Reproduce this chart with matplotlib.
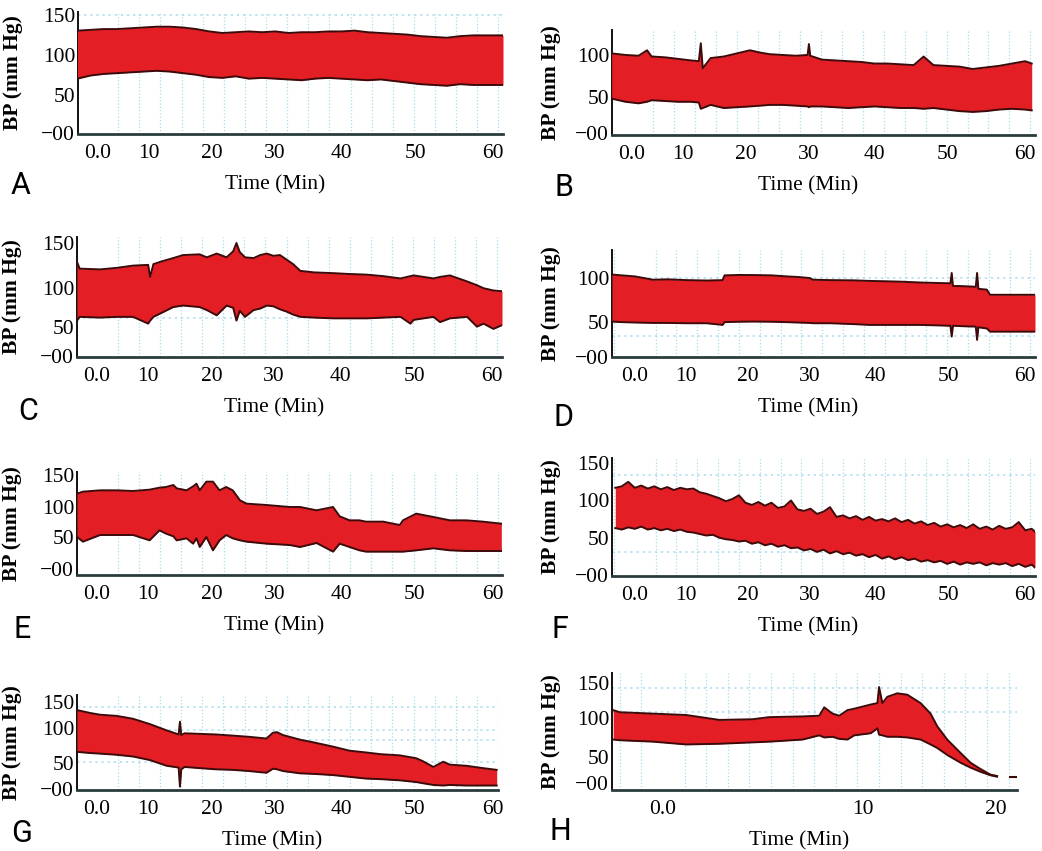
import matplotlib
matplotlib.use("Agg")
import matplotlib.pyplot as plt
from matplotlib.ticker import MultipleLocator

# ---- data: upper / lower envelope of the BP trace (mm Hg) vs time (min) ----
t_a = [-3, -1, 1, 3, 5, 7, 9, 11, 13, 15, 17, 19, 21, 23, 25, 27, 29, 31, 33, 35,
       37, 39, 41, 43, 45, 47, 49, 51, 53, 55, 57, 59, 61.5]
hi_a = [130, 131, 132, 132, 133, 134, 135, 135, 134, 132, 129, 127, 128, 129, 128, 129, 127,
        128, 128, 129, 129, 130, 128, 127, 126, 125, 123, 122, 121, 123, 124, 124, 124]
lo_a = [69, 73, 75, 76, 77, 78, 79, 78, 76, 74, 71, 70, 72, 69, 70, 69, 68, 67, 69, 70,
        69, 68, 67, 68, 66, 64, 62, 61, 60, 62, 61, 61, 61]

t_b = [-3.1, -1, 1, 2.3, 3, 5, 7, 9, 10.2, 10.5, 10.8, 12, 14, 16, 18, 19.6, 21, 23, 25, 26.8,
       27, 27.2, 29, 31, 33, 35, 37, 39, 41, 43, 44.5, 46, 48, 50, 52, 54, 56, 58, 60, 61]
hi_b = [102, 100, 99, 106, 98, 97, 95, 93, 92, 115, 83, 96, 98, 102, 106, 103, 101, 100, 99, 100,
        114, 99, 94, 93, 92, 91, 89, 89, 88, 87, 98, 87, 86, 85, 82, 84, 86, 89, 92, 89]
lo_b = [44, 40, 38, 40, 42, 41, 40, 40, 39, 31, 32, 36, 32, 33, 34, 35, 36, 36, 35, 34,
        33, 34, 34, 33, 32, 33, 34, 33, 32, 32, 31, 32, 30, 28, 27, 28, 30, 31, 30, 29]

t_c = [-3.0, -2.6, 0.5, 3, 5.5, 7.8, 8.1, 8.6, 10, 11.6, 13.1, 15.6, 16.7, 18.2, 19.7, 20.7,
       21.2, 21.7, 22.5, 23.8, 24.8, 25.8, 26.8, 27.8, 28.8, 29.8, 30.9, 33, 35.9, 38, 41,
       43.5, 46.1, 47.6, 48.1, 51.1, 52.1, 53.6, 56.2, 57.7, 58.7, 60.2, 61.5]
hi_c = [125, 116, 115, 117, 120, 121, 105, 122, 126, 130, 134, 135, 131, 136, 131, 139,
        150, 138, 131, 130, 134, 136, 133, 134, 128, 122, 113, 111, 110, 109, 108,
        106, 103, 106, 107, 103, 105, 107, 99, 94, 90, 87, 86]
lo_c = [47, 52, 51, 52, 52, 43, 47, 52, 58, 65, 67, 65, 61, 54, 67, 64,
        47, 60, 52, 61, 63, 67, 66, 62, 59, 55, 52, 51, 50, 50, 50,
        51, 52, 43, 48, 52, 45, 50, 52, 39, 43, 36, 41]

t_d = [-3.5, -2, 0, 2.8, 5, 8, 11, 13.5, 13.8, 16, 18.2, 21, 23.3, 25, 26.9, 27.4, 30, 33.6,
       36, 38.7, 41, 43.8, 46, 48.5, 48.7, 48.9, 50, 51.5, 52.4, 52.6, 52.8, 54.1, 54.6, 56,
       58, 60, 61.5]
hi_d = [104, 103, 101.7, 97.5, 98, 97, 96.5, 97, 103, 103.5, 103.4, 103, 101.7, 101, 99.6,
        97.5, 97, 96.7, 96, 95.5, 95, 94, 93.5, 93, 106, 89.6, 89.5, 89, 88.5, 106, 86, 85,
        78.5, 78.5, 78.5, 78.5, 78.5]
lo_d = [44.7, 44, 43.5, 43, 43, 42.6, 42.6, 40.5, 44, 44.5, 44.7, 44.5, 44, 43.5, 43, 42.6,
        42.6, 41.5, 40.5, 40.5, 40.5, 40.5, 40, 39.4, 25.8, 39.5, 39, 38.5, 38.4, 21.6, 37.5,
        36, 32, 32, 32, 32, 32]

t_e = [-3.0, -2.1, 0.5, 3, 5.5, 8.0, 9.5, 10.5, 11.6, 12.1, 13.6, 14.6, 15.1, 15.6, 16.6,
       17.6, 18.6, 19.6, 20.6, 21.7, 22.7, 25.7, 29.2, 30.8, 33.3, 35.8, 36.8, 38.3, 39.8,
       40.8, 43.4, 45.9, 46.4, 48.4, 51.0, 53.5, 56.0, 58.5, 61.3]
hi_e = [122, 125, 127, 127, 126, 128, 131, 132, 135, 130, 127, 133, 137, 127, 140,
        140, 127, 132, 127, 112, 107, 105, 102, 102, 97, 102, 88, 82, 82,
        80, 80, 75, 82, 92, 87, 82, 82, 80, 77]
lo_e = [57, 50, 60, 60, 60, 52, 67, 62, 58, 52, 55, 47, 55, 42, 57,
        37, 52, 60, 55, 52, 50, 47, 45, 42, 48, 35, 47, 42, 37,
        35, 35, 35, 35, 37, 40, 37, 36, 36, 36]

t_f = [-3, -2, -1, 0, 1, 2, 3, 4, 5, 6, 7, 8, 9, 10, 11, 12, 13, 14, 15, 16, 17, 18, 19, 20,
       21, 22, 23, 24, 25, 26, 27, 28, 29, 30, 31, 32, 33, 34, 35, 36, 37, 38, 39, 40, 41,
       42, 43, 44, 45, 46, 47, 48, 49, 50, 51, 52, 53, 54, 55, 56, 57, 58, 59, 60, 61, 61.5]
hi_f = [117, 119, 125, 117, 120, 116, 119, 115, 118, 114, 117, 115, 116, 111, 109, 106, 103,
        99, 102, 107, 97, 94, 98, 93, 97, 90, 92, 100, 88, 86, 89, 82, 85, 91, 78, 80, 76,
        79, 74, 78, 73, 75, 72, 76, 71, 74, 69, 72, 67, 70, 65, 68, 64, 67, 63, 68, 62, 65,
        61, 66, 62, 64, 71, 60, 62, 58]
lo_f = [63, 61, 64, 62, 65, 61, 63, 60, 62, 59, 61, 58, 57, 55, 53, 54, 50, 48, 47, 45,
        46, 42, 44, 40, 42, 38, 40, 36, 37, 33, 35, 31, 34, 29, 32, 28, 30, 26, 28, 24,
        27, 22, 25, 21, 24, 20, 22, 18, 20, 17, 19, 15, 18, 14, 17, 15, 17, 13, 16, 14,
        16, 12, 15, 11, 14, 10]

t_g = [-3.0, -1, 0.5, 3, 5.5, 8.0, 10.6, 12.4, 12.6, 12.8, 13.3, 15.6, 18, 20.6, 23, 25.7,
       26.7, 27.3, 28.2, 30.8, 33, 35.8, 38.3, 40.8, 43, 45.9, 48.4, 49.4, 51.0, 52.5, 53.5,
       56.0, 58.5, 60.6]
hi_g = [136, 131, 128, 126, 121, 112, 101, 94, 116, 93, 96, 95, 94, 92, 90, 87,
        97, 98, 93, 85, 80, 73, 66, 63, 60, 58, 53, 48, 38, 47, 42, 40, 36, 33]
lo_g = [64, 62, 61, 59, 56, 50, 40, 37, 4, 34, 38, 36, 34, 33, 31, 28,
        35, 34, 31, 27, 26, 24, 21, 18, 17, 15, 12, 10, 7, 6, 7, 6, 6, 6]

t_h = [-3.0, -2.6, -0.6, 1.4, 3.4, 5.4, 6.4, 8.4, 9.4, 9.7, 10.2, 10.6, 11.1, 11.5, 12.5,
       12.9, 13.0, 13.2, 13.5, 14.1, 14.7, 15.5, 16.1, 16.5, 17.1, 17.9, 18.5, 19.1, 19.7, 20.1]
hi_h = [111, 108, 106, 104, 97, 98, 101, 102, 103, 115, 106, 103, 111, 113, 119,
        121, 144, 121, 130, 135, 133, 121, 106, 88, 69, 50, 36, 27, 19, 17]
lo_h = [69, 68, 66, 62, 63, 65, 66, 69, 75, 72, 73, 70, 69, 75, 78,
        85, 76, 75, 73, 73, 72, 69, 62, 57, 47, 36, 29, 23, 18, 16]
tail_t_h = [20.9, 21.3]
tail_v_h = [16, 16]

letters = ["A", "B", "C", "D", "E", "F", "G", "H"]
time_ticks = ["0.0", "10", "20", "30", "40", "50", "60"]
time_ticks_h = ["0.0", "10", "20"]
bp_ticks4 = ["\u221200", "50", "100", "150"]
bp_ticks3 = ["\u221200", "50", "100"]

# ---- layout (pixel boxes: left, top, right, bottom) ----
W, H = 1042, 851
pos60 = [0, 7.8, 17.4, 26.9, 37.0, 48.2, 60]
panels = [
    dict(d=(t_a, hi_a, lo_a), box=(78, 12, 503, 134), xl=(-2.9, 61.5), yl=(-1.3, 153.7),
         yt=[0, 48, 99, 150], ytl=bp_ticks4, hl=[150], let=(21, 186)),
    dict(d=(t_b, hi_b, lo_b), box=(612, 30, 1035, 135), xl=(-3.05, 61.5), yl=(-2.6, 132),
         yt=[0, 46, 100], ytl=bp_ticks3, hl=[], let=(564, 187)),
    dict(d=(t_c, hi_c, lo_c), box=(77, 237, 502, 357), xl=(-3.0, 61.5), yl=(-1.3, 158),
         yt=[0, 38, 90, 150], ytl=bp_ticks4, hl=[50], let=(28, 412)),
    dict(d=(t_d, hi_d, lo_d), box=(612, 250, 1035, 357), xl=(-3.5, 61.5), yl=(0, 135),
         yt=[0, 44, 100], ytl=bp_ticks3, hl=[100, 26], let=(563, 417)),
    dict(d=(t_e, hi_e, lo_e), box=(77, 472, 502, 575), xl=(-3.0, 61.4), yl=(0, 154.5),
         yt=[9, 57, 102, 150], ytl=bp_ticks4, hl=[], let=(22, 630)),
    dict(d=(t_f, hi_f, lo_f), box=(612, 458, 1035, 576), xl=(-3.5, 61.5), yl=(-1.3, 157),
         yt=[0, 50, 100, 150], ytl=bp_ticks4, hl=[134, 31], let=(560, 630)),
    dict(d=(t_g, hi_g, lo_g), box=(77, 695, 498, 790), xl=(-3.0, 60.8), yl=(-1.7, 162),
         yt=[0, 45, 105, 150], ytl=bp_ticks4, hl=[142, 102, 84, 47], let=(22, 833)),
    dict(d=(t_h, hi_h, lo_h), box=(612, 673, 1017, 790), xl=(-3.07, 21.3), yl=(-3, 164),
         yt=[7, 44, 100, 150], ytl=bp_ticks4, hl=[143, 109], let=(560, 832)),
]

RED = "#e41e25"
EDGE = "#3d0a0a"
GRID = "#a9dcec"
SERIF = "Liberation Serif"

fig = plt.figure(figsize=(W / 100, H / 100), dpi=100)

for i, p in enumerate(panels):
    l, t, r, b = p["box"]
    ax = fig.add_axes([l / W, 1 - b / H, (r - l) / W, (b - t) / H])
    tt, hi, lo = p["d"]
    ax.fill_between(tt, lo, hi, color=RED, lw=0, zorder=3)
    ax.plot(tt, hi, color=EDGE, lw=1.4, zorder=4)
    ax.plot(tt, lo, color=EDGE, lw=1.4, zorder=4)
    if i == 7:
        ax.plot(tail_t_h, tail_v_h, color=EDGE, lw=1.5, zorder=4)

    ax.set_xlim(*p["xl"])
    ax.set_ylim(*p["yl"])
    if i == 7:
        ax.set_xticks([0, 12, 20])
        ax.set_xticklabels(time_ticks_h)
        ax.xaxis.set_minor_locator(MultipleLocator(1.3))
    else:
        ax.set_xticks(pos60)
        ax.set_xticklabels(time_ticks)
        ax.xaxis.set_minor_locator(MultipleLocator(3.2))
    ax.set_yticks(p["yt"])
    ax.set_yticklabels(p["ytl"])

    ax.grid(which="minor", axis="x", color=GRID, ls=":", lw=0.9, zorder=1)
    for y in p["hl"]:
        ax.axhline(y, color=GRID, ls=(0, (1.5, 2.5)), lw=1.1, zorder=1)

    for s in ("top", "right"):
        ax.spines[s].set_visible(False)
    ax.spines["left"].set_color("#111111")
    ax.spines["left"].set_linewidth(1.4)
    ax.spines["bottom"].set_color("#2a3b3b")
    ax.spines["bottom"].set_linewidth(2.0)
    ax.spines["bottom"].set_zorder(5)

    ax.tick_params(which="both", length=0)
    ax.tick_params(axis="x", pad=7)
    ax.tick_params(axis="y", pad=2)
    for lab in ax.get_xticklabels() + ax.get_yticklabels():
        lab.set_fontfamily(SERIF)
        lab.set_fontsize(15.5)

    wpx = r - l
    hpx = b - t
    ax.set_ylabel("BP (mm Hg)", fontfamily=SERIF, fontsize=15.5, fontweight="bold")
    ax.yaxis.set_label_coords(-(55 if l < 300 else 51) / wpx, 0.5)
    ax.set_xlabel("Time (Min)", fontfamily=SERIF, fontsize=15.5)
    ax.xaxis.set_label_coords(0.5 - 15 / wpx, -41 / hpx)

    lx, ly = p["let"]
    fig.text(lx / W, 1 - ly / H, letters[i], ha="center", va="center", fontsize=22,
             family=["DejaVu Sans Condensed", "Roboto", "DejaVu Sans"])

fig.savefig("out.png", dpi=100)
